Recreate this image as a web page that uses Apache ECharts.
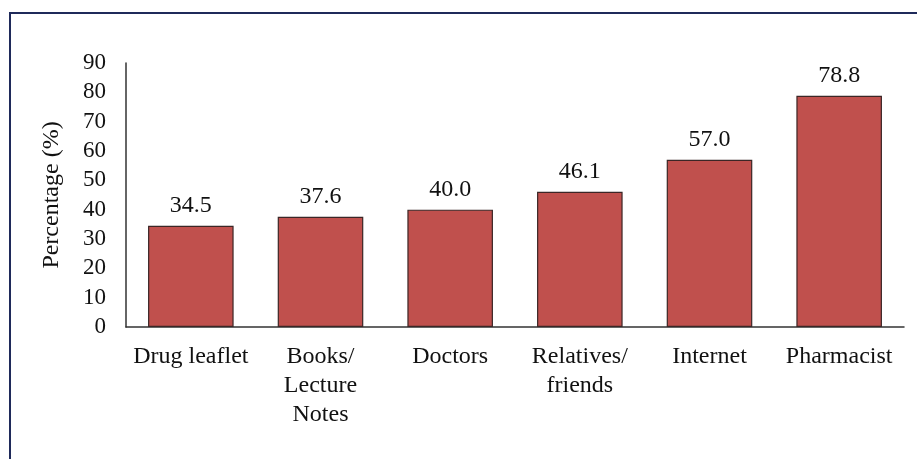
<!DOCTYPE html>
<html><head><meta charset="utf-8">
<script src="https://cdn.jsdelivr.net/npm/echarts@6/dist/echarts.min.js"></script>
<style>
html,body{margin:0;padding:0;background:#fff;}
#frame{position:absolute;left:9px;top:12px;width:920px;height:460px;border-left:2px solid #1f2a5a;border-top:2px solid #1f2a5a;box-sizing:border-box;}
#c{position:absolute;left:0;top:0;width:917px;height:459px;}
</style></head>
<body>
<div id="frame"></div>
<div id="c"></div>
<script>
const categories = ["Drug leaflet", "Books/\nLecture\nNotes", "Doctors", "Relatives/\nfriends", "Internet", "Pharmacist"];
const values = [34.5, 37.6, 40.0, 46.1, 57.0, 78.8];
const yTicks = { min: 0, max: 90, interval: 10 };

const chart = echarts.init(document.getElementById('c'), null, {renderer: 'canvas'});
const font = '"Liberation Serif", "Times New Roman", serif';
chart.setOption({
  backgroundColor: 'transparent',
  animation: false,
  grid: { left: 126, right: 13, top: 63, bottom: 132 },
  xAxis: {
    type: 'category',
    data: categories,
    axisLine: { lineStyle: { color: '#333', width: 1.5 } },
    axisTick: { show: false },
    axisLabel: { color: '#111', fontFamily: font, fontSize: 24, margin: 15, lineHeight: 29, interval: 0 }
  },
  yAxis: {
    type: 'value',
    min: yTicks.min, max: yTicks.max, interval: yTicks.interval,
    name: 'Percentage (%)',
    nameLocation: 'middle',
    nameGap: 62,
    nameTextStyle: { color: '#111', fontFamily: font, fontSize: 24 },
    axisLine: { show: true, lineStyle: { color: '#333', width: 1.5 } },
    axisTick: { show: false },
    splitLine: { show: false },
    axisLabel: { color: '#111', fontFamily: font, fontSize: 23, margin: 20 }
  },
  series: [{
    type: 'bar',
    data: values,
    barCategoryGap: '34%',
    itemStyle: { color: '#C0504D', borderColor: '#3b2626', borderWidth: 1.2 },
    label: {
      show: true, position: 'top', distance: 8,
      color: '#111', fontFamily: font, fontSize: 24,
      formatter: p => p.value.toFixed(1)
    }
  }]
});
</script>
</body></html>
